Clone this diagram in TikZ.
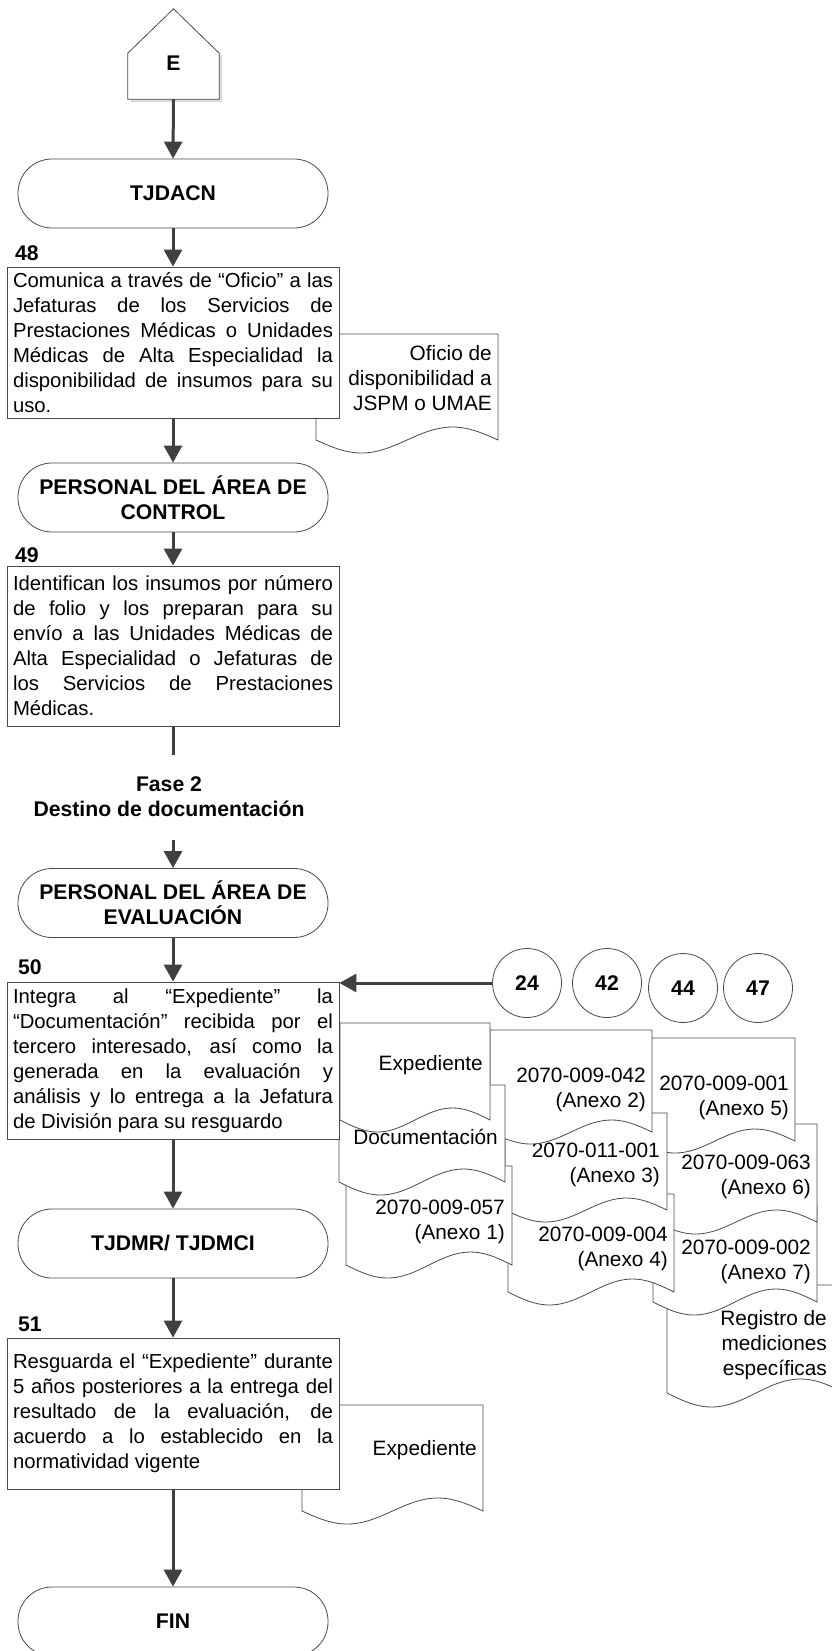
\documentclass[tikz,border=0pt]{standalone}
\usepackage{fontspec}
\setmainfont{Liberation Sans}
\usetikzlibrary{arrows.meta}
\definecolor{ink}{HTML}{404040}
\definecolor{edge}{HTML}{4A4A4A}

% document symbol: left, right, top, base of the wave, wave amplitude
\newcommand\docshape[5]{%
  \filldraw[docline] (#1,#3) -- (#2,#3) -- (#2,#4)
    -- plot[domain=1:0,samples=41,smooth] ({#1+(#2-#1)*\x},{#4+#5*sin(360*\x)}) -- cycle;}
% justified step text with forced line ends and no hyphenation
\newcommand\steptext{\fontsize{20.3}{25}\selectfont\tolerance=10000\relax
  \hyphenpenalty=10000\relax\exhyphenpenalty=10000\relax}

\begin{document}
\begin{tikzpicture}[x=1pt,y=-1pt,
  flow/.style={draw=ink, line width=3pt, -{Triangle[width=18pt,length=17pt]}},
  plain/.style={draw=ink, line width=3pt},
  term/.style={draw=edge, line width=0.8pt, fill=white, rounded corners=34pt,
    minimum width=310pt, minimum height=69pt, inner sep=0pt, align=center,
    font=\bfseries\fontsize{21.2}{25}\selectfont},
  stepbox/.style={draw=edge, line width=0.8pt, fill=white, text width=320pt,
    inner xsep=6pt, inner ysep=0pt, align=justify, font=\steptext},
  num/.style={inner sep=0pt, font=\bfseries\fontsize{21.2}{25}\selectfont},
  doctext/.style={inner sep=0pt, align=right, anchor=east, font=\fontsize{20.8}{25}\selectfont},
  conn/.style={circle, draw=edge, line width=0.8pt, fill=white, minimum size=69pt,
    inner sep=0pt, font=\bfseries\fontsize{21.2}{25}\selectfont},
  docline/.style={draw=edge, line width=0.8pt, fill=white}]

\useasboundingbox (0,0) rectangle (832,1651);
\clip (0,0) rectangle (832,1651);
\fill[white] (0,0) rectangle (832,1651);

% off-page connector E
\node[minimum width=91pt, minimum height=90pt, inner sep=0pt] (E) at (173.5,54) {};
\fill[black!14] ([shift={(3pt,-3pt)}]E.south west) -- ([shift={(3pt,-3pt)}]E.south east)
  -- ([shift={(3pt,43pt)}]E.south east) -- ([shift={(3pt,-3pt)}]E.north)
  -- ([shift={(3pt,43pt)}]E.south west) -- cycle;
\filldraw[draw=edge, fill=white, line width=0.8pt] (E.south west) -- (E.south east)
  -- ([yshift=46pt]E.south east) -- (E.north) -- ([yshift=46pt]E.south west) -- cycle;
\node[num] (Elbl) at (173.5,63) {E};

% actors
\node[term] (tjdacn) at (173,193.5) {TJDACN};
\node[term] (control) at (173,497.5) {PERSONAL DEL ÁREA DE\\CONTROL};
\node[term] (evalua) at (173,903) {PERSONAL DEL ÁREA DE\\EVALUACIÓN};
\node[term] (tjdmr) at (173,1243.5) {TJDMR/ TJDMCI};
\node[term] (fin) at (173,1621.5) {FIN};

% documents beside step 48 and step 51
\docshape{316}{498}{334}{440}{13}
\node[doctext] (tOficio) at (492,378) {Oficio de\\disponibilidad a\\JSPM o UMAE};
\docshape{302}{483}{1405}{1511}{13}
\node[doctext] (tExpB) at (477,1450) {Expediente};

% stack of documents for step 50 (back to front)
\docshape{667}{845}{1285}{1393}{14}
\node[doctext] (tReg) at (827,1345) {Registro de\\mediciones\\específicas};
\docshape{653}{817}{1205}{1302}{13}
\node[doctext] (tA7) at (811,1261.5) {2070-009-002\\(Anexo 7)};
\docshape{655}{817}{1124}{1222}{12}
\node[doctext] (tA6) at (811,1177) {2070-009-063\\(Anexo 6)};
\docshape{635}{795}{1038}{1141}{12}
\node[doctext] (tA5) at (789,1097.5) {2070-009-001\\(Anexo 5)};
\docshape{508}{674}{1194}{1292}{13}
\node[doctext] (tA4) at (668,1248.5) {2070-009-004\\(Anexo 4)};
\docshape{505}{667}{1113}{1210}{12}
\node[doctext] (tA3) at (660,1165) {2070-011-001\\(Anexo 3)};
\docshape{490}{652}{1030}{1132}{12}
\node[doctext] (tA2) at (646,1090) {2070-009-042\\(Anexo 2)};
\docshape{346}{512}{1166}{1265}{13}
\node[doctext] (tA1) at (505,1222) {2070-009-057\\(Anexo 1)};
\docshape{339}{505}{1085}{1182}{13}
\node[doctext] (tDoc) at (498,1137) {Documentación};
\docshape{340}{490}{1023}{1120}{12}
\node[doctext] (tExpA) at (483,1065) {Expediente};

% steps
\node[num, anchor=west] (n48) at (15,253.5) {48};
\node[stepbox, minimum height=151pt] (b48) at (173,342.5) {Comunica a través de “Oficio” a las\linebreak
 Jefaturas de los Servicios de\linebreak
 Prestaciones Médicas o Unidades\linebreak
 Médicas de Alta Especialidad la\linebreak
 disponibilidad de insumos para su\linebreak
 uso.};

\node[num, anchor=west] (n49) at (15,555) {49};
\node[stepbox, minimum height=160pt] (b49) at (173,646) {Identifican los insumos por número\linebreak
 de folio y los preparan para su\linebreak
 envío a las Unidades Médicas de\linebreak
 Alta Especialidad o Jefaturas de\linebreak
 los Servicios de Prestaciones\linebreak
 Médicas.};

\node[num, align=center] (fase) at (169,797) {Fase 2\\Destino de documentación};

\node[num, anchor=west] (n50) at (18,967) {50};
\node[stepbox, minimum height=157pt] (b50) at (173,1060.5) {Integra al “Expediente” la\linebreak
 “Documentación” recibida por el\linebreak
 tercero interesado, así como la\linebreak
 generada en la evaluación y\linebreak
 análisis y lo entrega a la Jefatura\linebreak
 de División para su resguardo};

\node[num, anchor=west] (n51) at (18,1324) {51};
\node[stepbox, minimum height=151pt] (b51) at (173,1413.5) {Resguarda el “Expediente” durante\linebreak
 5 años posteriores a la entrega del\linebreak
 resultado de la evaluación, de\linebreak
 acuerdo a lo establecido en la\linebreak
 normatividad vigente};

% connectors from earlier steps
\node[conn] (c24) at (527,983) {24};
\node[conn] (c42) at (607,983) {42};
\node[conn] (c44) at (683,988) {44};
\node[conn] (c47) at (758,988) {47};

% flow lines
\coordinate (gapA) at (173,755);
\coordinate (gapB) at (173,840);
\draw[flow] (E.south) -- (tjdacn.north);
\draw[flow] (tjdacn.south) -- (b48.north);
\draw[flow] (b48.south) -- (control.north);
\draw[flow] (control.south) -- (b49.north);
\draw[plain] (b49.south) -- (gapA);
\draw[flow] (gapB) -- (evalua.north);
\draw[flow] (evalua.south) -- (b50.north);
\draw[flow] (c24.west) -- (c24.west -| b50.east);
\draw[flow] (b50.south) -- (tjdmr.north);
\draw[flow] (tjdmr.south) -- (b51.north);
\draw[flow] (b51.south) -- (fin.north);
\end{tikzpicture}
\end{document}
